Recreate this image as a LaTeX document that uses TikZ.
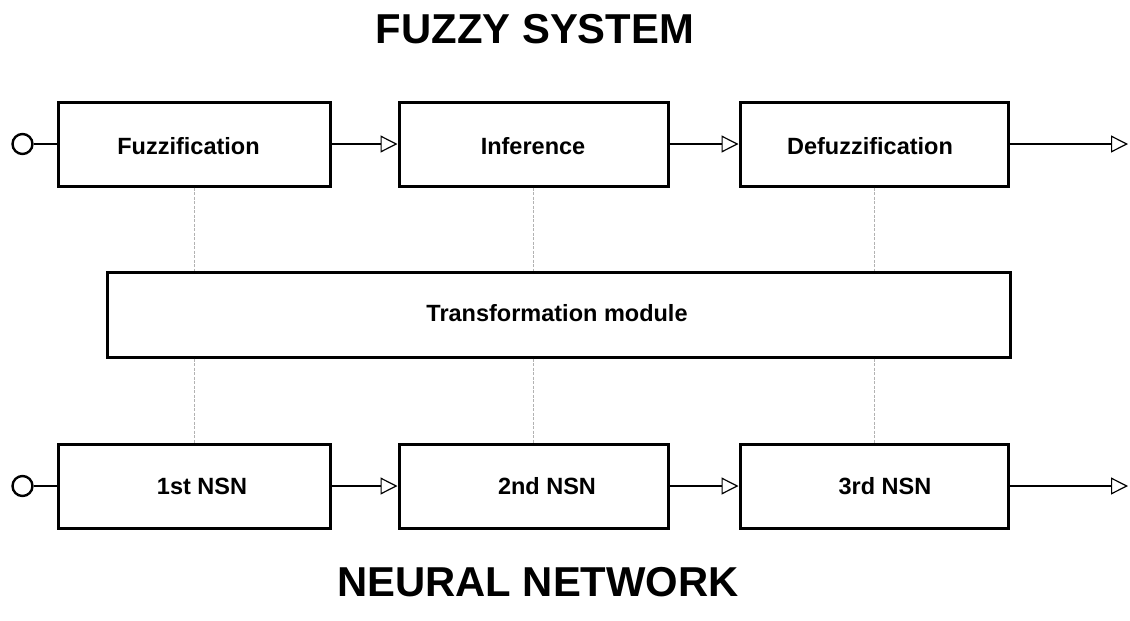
\documentclass[tikz,border=0pt]{standalone}
\usepackage{fontspec}
\setmainfont{Liberation Sans}
\usetikzlibrary{arrows.meta}

\tikzset{
  block/.style={draw=black, line width=3pt, fill=white, inner sep=0pt,
                minimum height=84pt},
  lbl/.style={inner sep=0pt, anchor=base,
              font=\bfseries\fontsize{23.5}{28}\selectfont},
  title/.style={inner sep=0pt, anchor=base,
                font=\bfseries\fontsize{41.8}{48}\selectfont},
  flow/.style={line width=2.4pt,
               -{Triangle[open, length=17pt, width=17pt, line width=1.2pt]}},
  feed/.style={line width=2.4pt},
  port/.style={circle, draw=black, line width=2.4pt, minimum size=20pt, inner sep=0pt},
  link/.style={draw=black!30, line width=0.8pt, dash pattern=on 3pt off 1.5pt},
}

\begin{document}
\begin{tikzpicture}[x=1pt, y=-1pt]
  \useasboundingbox (0,0) rectangle (1130,621);

  % titles
  \node[title] (ftitle) at (535,43) {FUZZY SYSTEM};
  \node[title] (ntitle) at (538,596) {NEURAL NETWORK};

  % fuzzy system chain
  \node[block, minimum width=272pt] (fuzz) at (194,144) {};
  \node[block, minimum width=269pt] (inf) at (533.5,144) {};
  \node[block, minimum width=268pt] (defuzz) at (874,144) {};
  \node[lbl] (fuzzT) at (188.5,154) {Fuzzification};
  \node[lbl] (infT) at (533,154) {Inference};
  \node[lbl] (defuzzT) at (870,154) {Defuzzification};

  % transformation module
  \node[block, minimum width=903pt, minimum height=85pt] (trans) at (558.5,314.5) {};
  \node[lbl] (transT) at (557,321) {Transformation module};

  % neural network chain
  \node[block, minimum width=272pt] (nsnA) at (194,486) {};
  \node[block, minimum width=269pt] (nsnB) at (533.5,486) {};
  \node[block, minimum width=268pt] (nsnC) at (874,486) {};
  \node[lbl] (nsnAT) at (202,494) {1st NSN};
  \node[lbl] (nsnBT) at (547,494) {2nd NSN};
  \node[lbl] (nsnCT) at (885,494) {3rd NSN};

  % inputs
  \node[port] (inF) at (22.5,144) {};
  \node[port] (inN) at (22.5,486) {};
  \draw[feed] (inF) -- (fuzz);
  \draw[feed] (inN) -- (nsnA);

  % outputs
  \coordinate (outF) at (1128,144);
  \coordinate (outN) at (1128,486);

  % signal flow
  \draw[flow] (fuzz) -- (inf);
  \draw[flow] (inf) -- (defuzz);
  \draw[flow] (defuzz) -- (outF);
  \draw[flow] (nsnA) -- (nsnB);
  \draw[flow] (nsnB) -- (nsnC);
  \draw[flow] (nsnC) -- (outN);

  % correspondence links through the transformation module
  \foreach \a/\b in {fuzz/nsnA, inf/nsnB, defuzz/nsnC}{
    \draw[link] (\a.south) -- (\a.south |- trans.north);
    \draw[link] (\a.south |- trans.south) -- (\b.north);
  }
\end{tikzpicture}
\end{document}
